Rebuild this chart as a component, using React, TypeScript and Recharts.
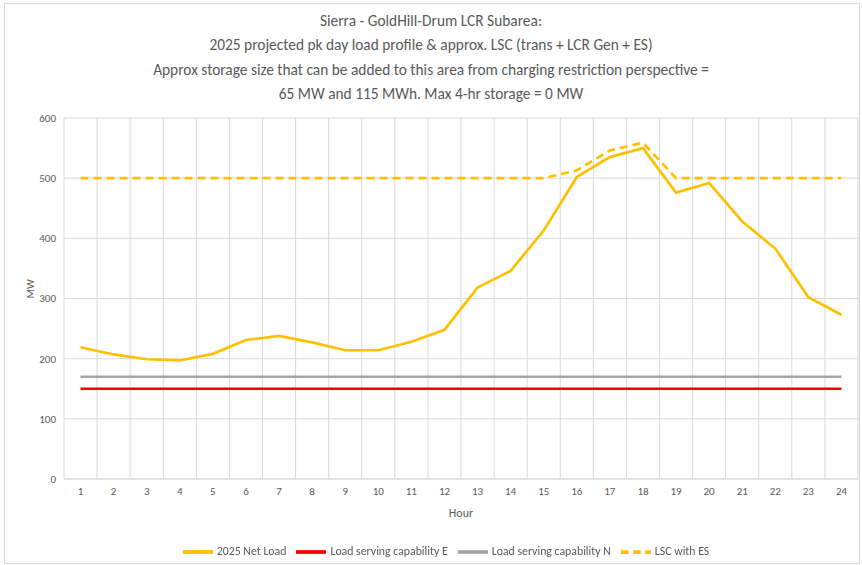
import React from 'react';
import {
	LineChart,
	Line,
	XAxis,
	YAxis,
	CartesianGrid,
	ReferenceLine,
	Legend,
} from 'recharts';

const hours = [1, 2, 3, 4, 5, 6, 7, 8, 9, 10, 11, 12, 13, 14, 15, 16, 17, 18, 19, 20, 21, 22, 23, 24];
const netLoad = [219, 207, 199, 197, 208, 231, 238, 227, 214, 214, 228, 248, 318, 346, 413, 502, 535, 550, 476, 492, 428, 383, 302, 273];
const lscE = [150, 150, 150, 150, 150, 150, 150, 150, 150, 150, 150, 150, 150, 150, 150, 150, 150, 150, 150, 150, 150, 150, 150, 150];
const lscN = [170, 170, 170, 170, 170, 170, 170, 170, 170, 170, 170, 170, 170, 170, 170, 170, 170, 170, 170, 170, 170, 170, 170, 170];
const lscES = [500, 500, 500, 500, 500, 500, 500, 500, 500, 500, 500, 500, 500, 500, 500, 513, 546, 559, 500, 500, 500, 500, 500, 500];
const yTicks = [0, 100, 200, 300, 400, 500, 600];
const seriesNames = ['2025 Net Load', 'Load serving capability E', 'Load serving capability N', 'LSC with ES'];
const titleLines = [
	'Sierra - GoldHill-Drum LCR Subarea:',
	'2025 projected pk day load profile & approx. LSC (trans + LCR Gen + ES)',
	'Approx storage size that can be added to this area from charging restriction perspective =',
	'65 MW and 115 MWh. Max 4-hr storage = 0 MW',
];

const data = hours.map((h, i) => ({
	hour: h,
	net: netLoad[i],
	e: lscE[i],
	n: lscN[i],
	es: lscES[i],
}));

// category boundaries, Excel-style vertical gridlines
const boundaries = [0, ...hours].map(h => h + 0.5);

const font = "Carlito, 'Liberation Sans Narrow', 'DejaVu Sans Condensed', sans-serif";
const textColor = '#595959';
const gridColor = '#d9d9d9';

export default function App() {
	return (
		<div
			style={{
				position: 'fixed',
				left: 0,
				top: 0,
				width: 862,
				height: 565,
				background: '#fff',
				fontFamily: font,
			}}
		>
			<div
				style={{
					position: 'absolute',
					left: 4,
					top: 3,
					width: 854,
					height: 559,
					border: `1px solid ${gridColor}`,
				}}
			/>
			<div
				style={{
					position: 'absolute',
					left: 0,
					top: 9,
					width: 862,
					textAlign: 'center',
					color: textColor,
					fontSize: 15.4,
					lineHeight: '24.4px',
				}}
			>
				{titleLines.map(t => (
					<div key={t}>{t}</div>
				))}
			</div>
			<LineChart
				width={862}
				height={565}
				data={data}
				margin={{ top: 118, right: 4, bottom: 46, left: 0 }}
				style={{ position: 'absolute', left: 0, top: 0, fontFamily: font }}
			>
				<CartesianGrid vertical={false} stroke={gridColor} />
				{boundaries.map(b => (
					<ReferenceLine key={b} x={b} stroke={gridColor} />
				))}
				<XAxis
					dataKey='hour'
					type='number'
					domain={[0.5, 24.5]}
					ticks={hours}
					interval={0}
					tickLine={false}
					axisLine={{ stroke: gridColor }}
					tick={{ fill: textColor, fontSize: 11 }}
					height={40}
					label={{ value: 'Hour', position: 'insideBottom', offset: 2, fill: textColor, fontSize: 12 }}
				/>
				<YAxis
					domain={[0, 600]}
					ticks={yTicks}
					width={64}
					axisLine={false}
					tickLine={false}
					tick={{ fill: textColor, fontSize: 11 }}
					label={{ value: 'MW', angle: -90, position: 'insideLeft', offset: 30, fill: textColor, fontSize: 11 }}
				/>
				<Line
					name={seriesNames[0]}
					dataKey='net'
					stroke='#ffc000'
					strokeWidth={2.7}
					dot={false}
					legendType='plainline'
					isAnimationActive={false}
				/>
				<Line
					name={seriesNames[1]}
					dataKey='e'
					stroke='#ff0000'
					strokeWidth={2.5}
					dot={false}
					legendType='plainline'
					isAnimationActive={false}
				/>
				<Line
					name={seriesNames[2]}
					dataKey='n'
					stroke='#a5a5a5'
					strokeWidth={2.5}
					dot={false}
					legendType='plainline'
					isAnimationActive={false}
				/>
				<Line
					name={seriesNames[3]}
					dataKey='es'
					stroke='#ffc000'
					strokeWidth={2.7}
					strokeDasharray='8 5'
					dot={false}
					legendType='plainline'
					isAnimationActive={false}
				/>
				<Legend
					verticalAlign='middle'
					align='center'
					iconSize={30}
					itemSorter={item => seriesNames.indexOf(String(item.value))}
					wrapperStyle={{ top: 537, left: 20, width: 862, fontSize: 11.8 }}
					formatter={value => <span style={{ color: textColor }}>{value}</span>}
				/>
			</LineChart>
		</div>
	);
}
